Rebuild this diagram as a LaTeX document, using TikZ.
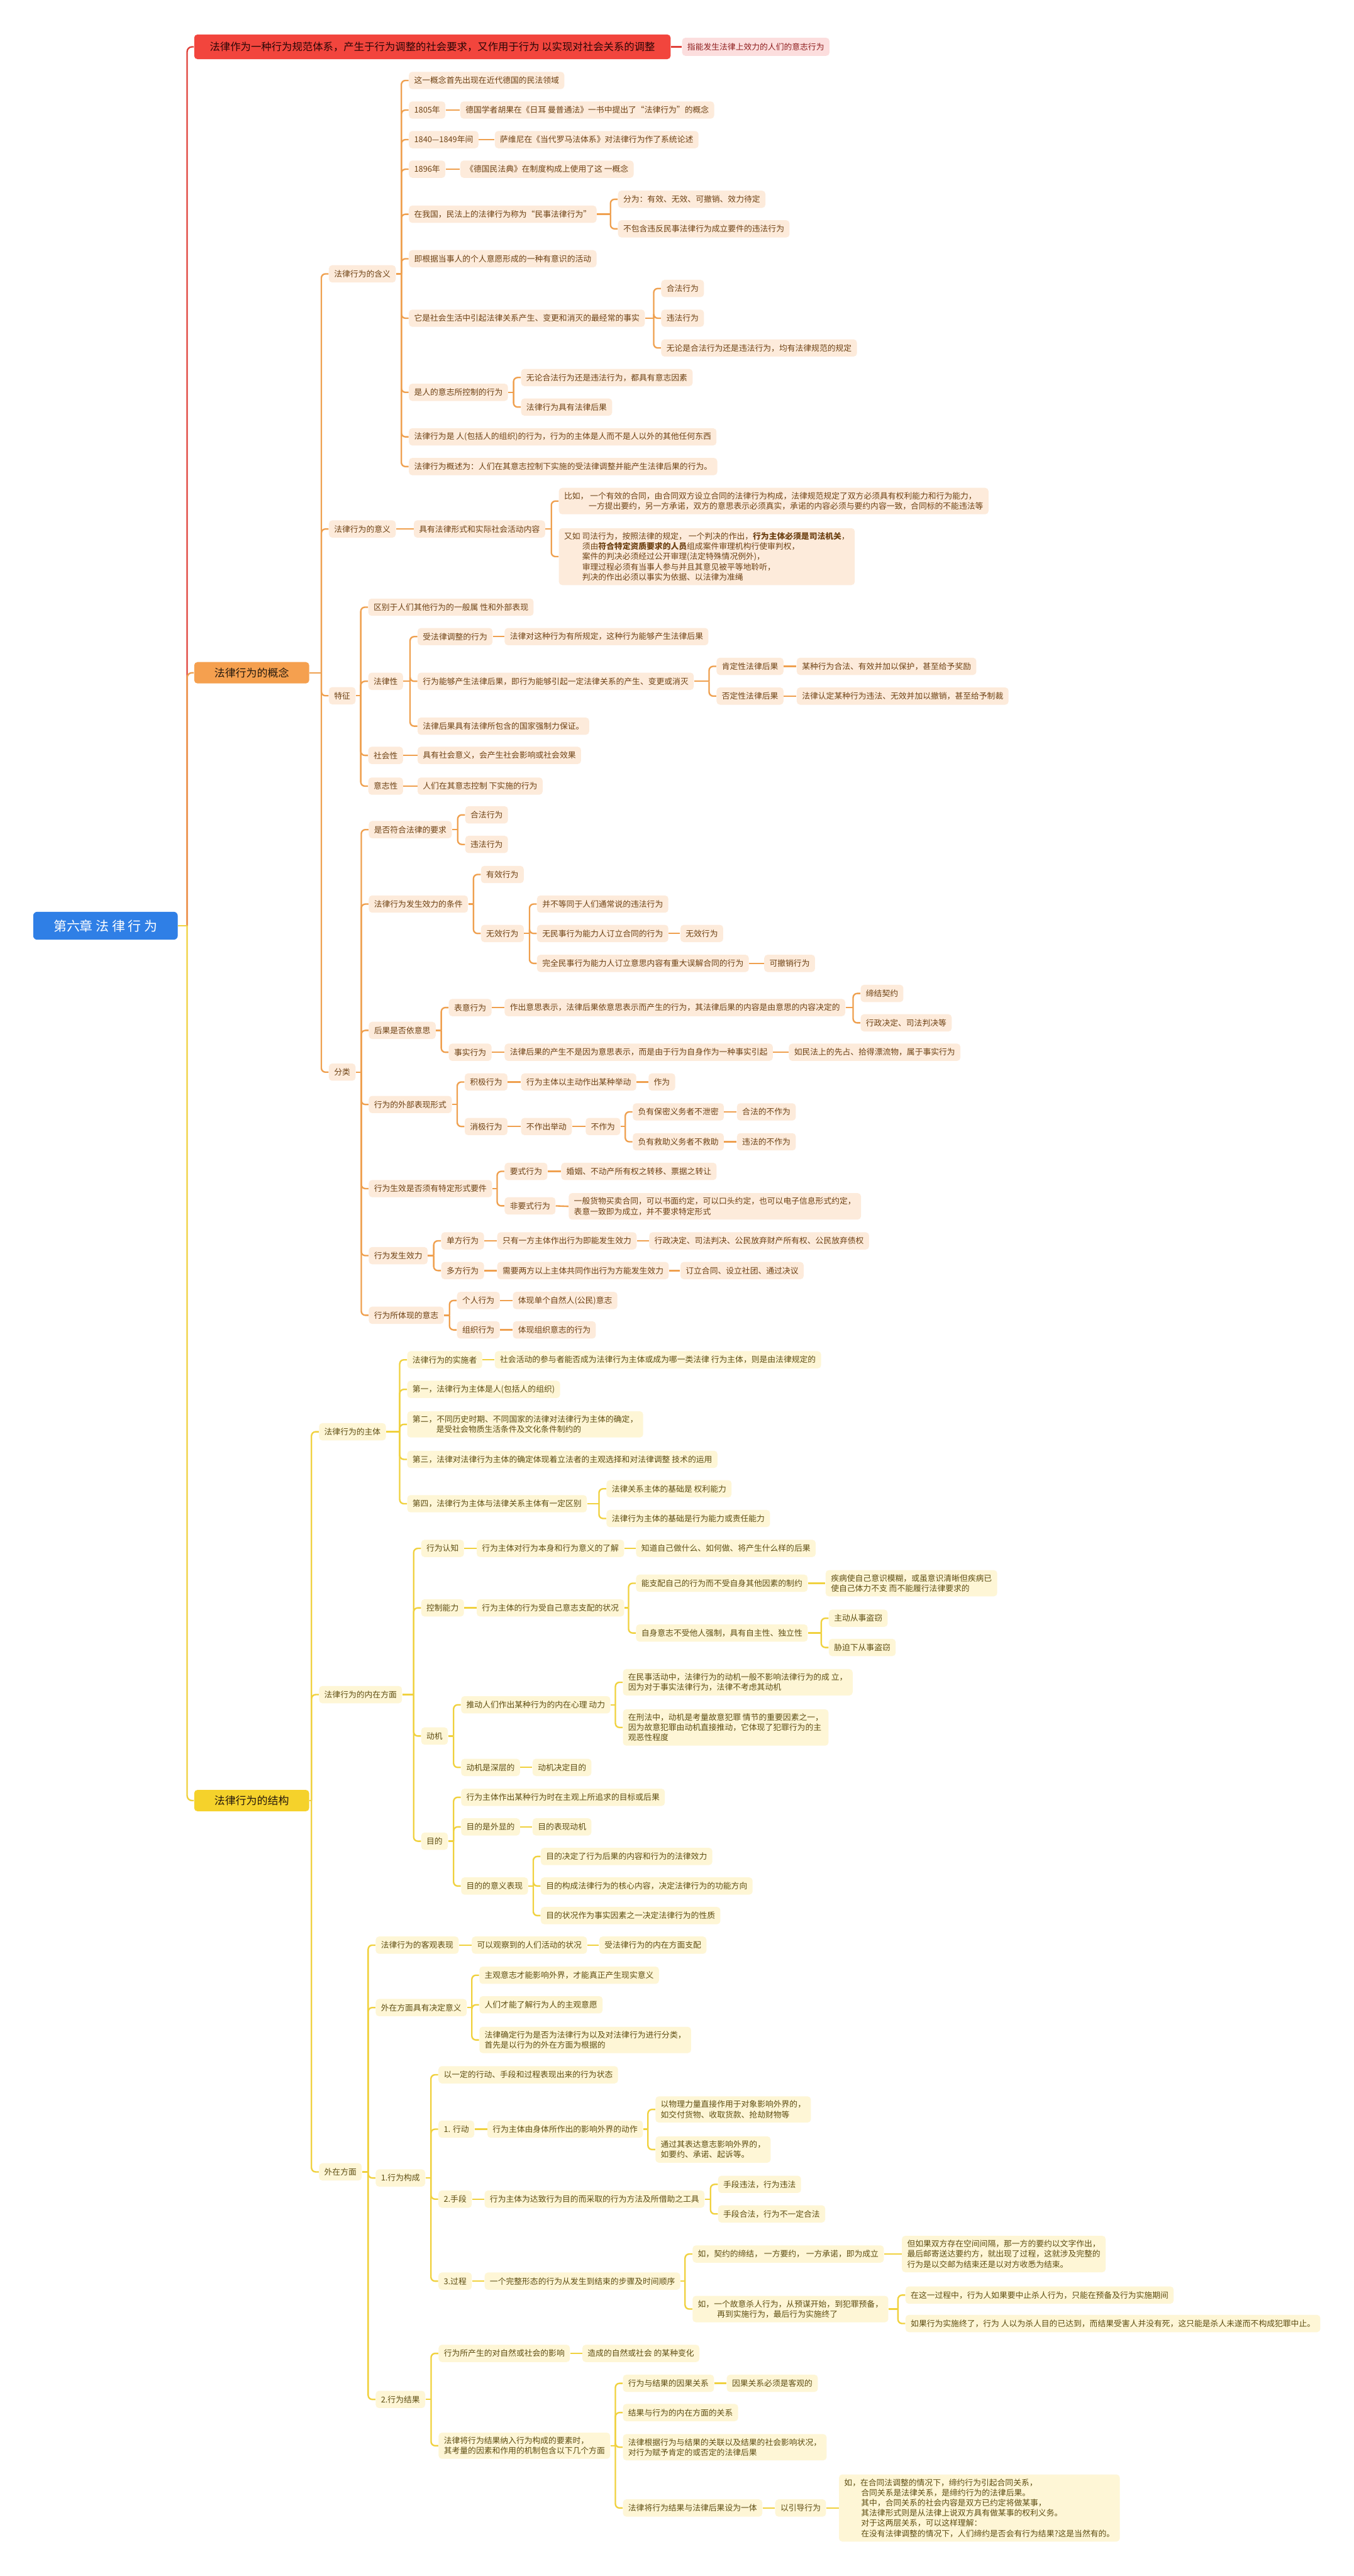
\documentclass[tikz,border=0pt]{standalone}
\usepackage{fontspec}
\setmainfont{Noto Sans CJK SC}
\usetikzlibrary{calc}
\definecolor{rootc}{HTML}{2F7FE6}
\definecolor{redc}{HTML}{F2453D}
\definecolor{redtext}{HTML}{2A0606}
\definecolor{rline}{HTML}{E0413A}
\definecolor{pinkc}{HTML}{FCDEDE}
\definecolor{pinktext}{HTML}{8E1E1E}
\definecolor{lonec}{HTML}{F5A04F}
\definecolor{ltwoc}{HTML}{F5D22B}
\definecolor{ofill}{HTML}{FDEBDB}
\definecolor{otext}{HTML}{6E4214}
\definecolor{oline}{HTML}{EFA04F}
\definecolor{yfill}{HTML}{FEF6D6}
\definecolor{ytext}{HTML}{5E4E12}
\definecolor{yline}{HTML}{F0D13E}
\newcommand\nfs{\fontsize{4.9pt}{6.2pt}\selectfont}
\newcommand\mmtree[4]{%
  \coordinate (#2-t) at ($(#2.east -| #3.west)+(-4.4,0)$);
  \draw[#1] (#2.east) -- (#2-t);
  \foreach \ch in {#4}{\draw[#1,rounded corners=2.5pt] (#2-t) |- (\ch.west);}%
}
\newcommand\mmlink[3]{\draw[#1] (#2.east) -- (#3.west);}
\begin{document}
\begin{tikzpicture}[x=1pt,y=-1pt,
  nd/.style={anchor=west, rounded corners=2pt, inner xsep=3.2pt, inner ysep=2.6pt, minimum height=10.5pt, font=\nfs, align=left},
  ob/.style={nd, fill=ofill, text=otext},
  yb/.style={nd, fill=yfill, text=ytext},
  ol/.style={draw=oline, line width=0.9pt},
  yl/.style={draw=yline, line width=0.9pt},
  rl/.style={draw=rline, line width=0.9pt},
  rootn/.style={anchor=west, fill=rootc, text=white, font=\fontsize{8pt}{9.6pt}\selectfont, minimum width=88pt, minimum height=17pt, inner sep=0pt, rounded corners=2.5pt},
  titlen/.style={anchor=west, fill=redc, text=redtext, font=\fontsize{6.27pt}{7.5pt}\selectfont, minimum width=290pt, minimum height=15pt, inner xsep=2pt, inner ysep=0pt, rounded corners=2pt},
  pinkn/.style={nd, fill=pinkc, text=pinktext, minimum height=11pt},
  lone/.style={anchor=west, fill=lonec, text=black!80!brown, font=\fontsize{6.5pt}{7.8pt}\selectfont, minimum width=70pt, minimum height=13pt, inner sep=0pt, rounded corners=2pt},
  ltwo/.style={anchor=west, fill=ltwoc, text=black!80!brown, font=\fontsize{6.5pt}{7.8pt}\selectfont, minimum width=70pt, minimum height=13pt, inner sep=0pt, rounded corners=2pt},
]
\useasboundingbox (0,0) rectangle (824,1568);
\fill[white] (0,0) rectangle (824,1568);

% ---------- root and level 1
\node[rootn] (root) at (20,563.5) {第六章 法 律 行 为};
\node[titlen] (title) at (118,28.5) {法律作为一种行为规范体系，产生于行为调整的社会要求，又作用于行为 以实现对社会关系的调整};
\node[pinkn] (pink) at (415,28.5) {指能发生法律上效力的人们的意志行为};
\node[lone] (gn) at (118,409.5) {法律行为的概念};
\node[ltwo] (jg) at (118,1096) {法律行为的结构};

% ---------- concept branch
\node[ob] (hy) at (200,166.7) {法律行为的含义};
\node[ob] (yy) at (200,322) {法律行为的意义};
\node[ob] (tz) at (200,423.5) {特征};
\node[ob] (fl) at (200,652.6) {分类};

\node[ob] (h1) at (248.7,49) {这一概念首先出现在近代德国的民法领域};
\node[ob] (h2) at (248.7,67) {1805年};
\node[ob] (h2a) at (280,67) {德国学者胡果在《日耳 曼普通法》一书中提出了“法律行为”的概念};
\node[ob] (h3) at (248.7,85) {1840—1849年间};
\node[ob] (h3a) at (301,85) {萨维尼在《当代罗马法体系》对法律行为作了系统论述};
\node[ob] (h4) at (248.7,103) {1896年};
\node[ob] (h4a) at (280,103) {《德国民法典》在制度构成上使用了这 一概念};
\node[ob] (h5) at (248.7,130.4) {在我国，民法上的法律行为称为“民事法律行为”};
\node[ob] (h5a) at (376,121.3) {分为：有效、无效、可撤销、效力待定};
\node[ob] (h5b) at (376,139.3) {不包含违反民事法律行为成立要件的违法行为};
\node[ob] (h6) at (248.7,157.5) {即根据当事人的个人意愿形成的一种有意识的活动};
\node[ob] (h7) at (248.7,193.7) {它是社会生活中引起法律关系产生、变更和消灭的最经常的事实};
\node[ob] (h7a) at (402.3,175.6) {合法行为};
\node[ob] (h7b) at (402.3,193.7) {违法行为};
\node[ob] (h7c) at (402.3,211.8) {无论是合法行为还是违法行为，均有法律规范的规定};
\node[ob] (h8) at (248.7,238.8) {是人的意志所控制的行为};
\node[ob] (h8a) at (317,229.8) {无论合法行为还是违法行为，都具有意志因素};
\node[ob] (h8b) at (317,247.8) {法律行为具有法律后果};
\node[ob] (h9) at (248.7,265.9) {法律行为是 人(包括人的组织)的行为，行为的主体是人而不是人以外的其他任何东西};
\node[ob] (h10) at (248.7,284) {法律行为概述为：人们在其意志控制下实施的受法律调整并能产生法律后果的行为。};

\node[ob] (y1) at (251.7,322) {具有法律形式和实际社会活动内容};
\node[ob] (y1a) at (340,305) {比如， 一个有效的合同，由合同双方设立合同的法律行为构成，法律规范规定了双方必须具有权利能力和行为能力，\\\hspace*{15pt}一方提出要约，另一方承诺，双方的意思表示必须真实，承诺的内容必须与要约内容一致，合同标的不能违法等};
\node[ob] (y1b) at (340,338.8) {又如 司法行为，按照法律的规定， 一个判决的作出，\textbf{行为主体必须是司法机关}，\\\hspace*{11pt}须由\textbf{符合特定资质要求的人员}组成案件审理机构行使审判权，\\\hspace*{11pt}案件的判决必须经过公开审理(法定特殊情况例外)，\\\hspace*{11pt}审理过程必须有当事人参与并且其意见被平等地聆听，\\\hspace*{11pt}判决的作出必须以事实为依据、以法律为准绳};

\node[ob] (t1) at (224,369.6) {区别于人们其他行为的一般属 性和外部表现};
\node[ob] (t2) at (224,414.7) {法律性};
\node[ob] (t21) at (254,387.5) {受法律调整的行为};
\node[ob] (t21a) at (307,387.5) {法律对这种行为有所规定，这种行为能够产生法律后果};
\node[ob] (t22) at (254,414.7) {行为能够产生法律后果，即行为能够引起一定法律关系的产生、变更或消灭};
\node[ob] (t221) at (436,405.6) {肯定性法律后果};
\node[ob] (t221a) at (484.8,405.6) {某种行为合法、有效并加以保护，甚至给予奖励};
\node[ob] (t222) at (436,423.7) {否定性法律后果};
\node[ob] (t222a) at (484.8,423.7) {法律认定某种行为违法、无效并加以撤销，甚至给予制裁};
\node[ob] (t23) at (254,442) {法律后果具有法律所包含的国家强制力保证。};
\node[ob] (t3) at (224,459.8) {社会性};
\node[ob] (t3a) at (254,459.8) {具有社会意义，会产生社会影响或社会效果};
\node[ob] (t4) at (224,478.5) {意志性};
\node[ob] (t4a) at (254,478.5) {人们在其意志控制 下实施的行为};

\node[ob] (f1) at (224.3,505) {是否符合法律的要求};
\node[ob] (f11) at (283,496) {合法行为};
\node[ob] (f12) at (283,514) {违法行为};
\node[ob] (f2) at (224.3,550.3) {法律行为发生效力的条件};
\node[ob] (f21) at (292.6,532.3) {有效行为};
\node[ob] (f22) at (292.6,568.2) {无效行为};
\node[ob] (f221) at (326.7,550.3) {并不等同于人们通常说的违法行为};
\node[ob] (f222) at (326.7,568.2) {无民事行为能力人订立合同的行为};
\node[ob] (f222a) at (414,568.2) {无效行为};
\node[ob] (f223) at (326.7,586.4) {完全民事行为能力人订立意思内容有重大误解合同的行为};
\node[ob] (f223a) at (465,586.4) {可撤销行为};
\node[ob] (f3) at (224.3,627.2) {后果是否依意思};
\node[ob] (f31) at (273,613.3) {表意行为};
\node[ob] (f31a) at (307,613.3) {作出意思表示，法律后果依意思表示而产生的行为，其法律后果的内容是由意思的内容决定的};
\node[ob] (f311) at (523.7,604.7) {缔结契约};
\node[ob] (f312) at (523.7,622.6) {行政决定、司法判决等};
\node[ob] (f32) at (273,640.5) {事实行为};
\node[ob] (f32a) at (307,640.5) {法律后果的产生不是因为意思表示，而是由于行为自身作为一种事实引起};
\node[ob] (f32b) at (480,640.5) {如民法上的先占、拾得漂流物，属于事实行为};
\node[ob] (f4) at (224.3,672.3) {行为的外部表现形式};
\node[ob] (f41) at (282.7,658.6) {积极行为};
\node[ob] (f41a) at (317,658.6) {行为主体以主动作出某种举动};
\node[ob] (f41b) at (394.6,658.6) {作为};
\node[ob] (f42) at (282.7,685.7) {消极行为};
\node[ob] (f42a) at (317,685.7) {不作出举动};
\node[ob] (f42b) at (356.3,685.7) {不作为};
\node[ob] (f421) at (385,676.8) {负有保密义务者不泄密};
\node[ob] (f421a) at (448.4,676.8) {合法的不作为};
\node[ob] (f422) at (385,695) {负有救助义务者不救助};
\node[ob] (f422a) at (448.4,695) {违法的不作为};
\node[ob] (f5) at (224.3,723.5) {行为生效是否须有特定形式要件};
\node[ob] (f51) at (307,713) {要式行为};
\node[ob] (f51a) at (341.4,713) {婚姻、不动产所有权之转移、票据之转让};
\node[ob] (f52) at (307,734) {非要式行为};
\node[ob] (f52a) at (346,734.3) {一般货物买卖合同，可以书面约定，可以口头约定，也可以电子信息形式约定，\\表意一致即为成立，并不要求特定形式};
\node[ob] (f6) at (224.3,764.3) {行为发生效力};
\node[ob] (f61) at (268.4,755.3) {单方行为};
\node[ob] (f61a) at (302.5,755.3) {只有一方主体作出行为即能发生效力};
\node[ob] (f61b) at (395,755.3) {行政决定、司法判决、公民放弃财产所有权、公民放弃债权};
\node[ob] (f62) at (268.4,773.4) {多方行为};
\node[ob] (f62a) at (302.5,773.4) {需要两方以上主体共同作出行为方能发生效力};
\node[ob] (f62b) at (414,773.4) {订立合同、设立社团、通过决议};
\node[ob] (f7) at (224.3,800.6) {行为所体现的意志};
\node[ob] (f71) at (278,791.6) {个人行为};
\node[ob] (f71a) at (312,791.6) {体现单个自然人(公民)意志};
\node[ob] (f72) at (278,809.5) {组织行为};
\node[ob] (f72a) at (312,809.5) {体现组织意志的行为};

% ---------- structure branch
\node[yb] (zt) at (194,871.5) {法律行为的主体};
\node[yb] (nz) at (194,1031.5) {法律行为的内在方面};
\node[yb] (wz) at (194,1322) {外在方面};

\node[yb] (z1) at (247.7,827.7) {法律行为的实施者};
\node[yb] (z1a) at (301,827.7) {社会活动的参与者能否成为法律行为主体或成为哪一类法律 行为主体，则是由法律规定的};
\node[yb] (z2) at (247.7,845.7) {第一，法律行为主体是人(包括人的组织)};
\node[yb] (z3) at (247.7,867) {第二，不同历史时期、不同国家的法律对法律行为主体的确定，\\\hspace*{14.5pt}是受社会物质生活条件及文化条件制约的};
\node[yb] (z4) at (247.7,888.3) {第三，法律对法律行为主体的确定体现着立法者的主观选择和对法律调整 技术的运用};
\node[yb] (z5) at (247.7,915.3) {第四，法律行为主体与法律关系主体有一定区别};
\node[yb] (z51) at (369,906.2) {法律关系主体的基础是 权利能力};
\node[yb] (z52) at (369,924.3) {法律行为主体的基础是行为能力或责任能力};

\node[yb] (n1) at (256.2,942.5) {行为认知};
\node[yb] (n1a) at (290,942.5) {行为主体对行为本身和行为意义的了解};
\node[yb] (n1b) at (387,942.5) {知道自己做什么、如何做、将产生什么样的后果};
\node[yb] (n2) at (256.2,978.7) {控制能力};
\node[yb] (n2a) at (290,978.7) {行为主体的行为受自己意志支配的状况};
\node[yb] (n21) at (387,963.7) {能支配自己的行为而不受自身其他因素的制约};
\node[yb] (n21a) at (502.4,963.7) {疾病使自己意识模糊，或虽意识清晰但疾病已\\使自己体力不支 而不能履行法律要求的};
\node[yb] (n22) at (387,994) {自身意志不受他人强制，具有自主性、独立性};
\node[yb] (n221) at (504.3,985) {主动从事盗窃};
\node[yb] (n222) at (504.3,1002.8) {胁迫下从事盗窃};
\node[yb] (n3) at (256.2,1056.7) {动机};
\node[yb] (n31) at (280.5,1037.7) {推动人们作出某种行为的内在心理 动力};
\node[yb] (n311) at (379,1024) {在民事活动中，法律行为的动机一般不影响法律行为的成 立，\\因为对于事实法律行为，法律不考虑其动机};
\node[yb] (n312) at (379,1051.5) {在刑法中，动机是考量故意犯罪 情节的重要因素之一，\\因为故意犯罪由动机直接推动，它体现了犯罪行为的主\\观恶性程度};
\node[yb] (n32) at (280.5,1075.8) {动机是深层的};
\node[yb] (n32a) at (324,1075.8) {动机决定目的};
\node[yb] (n4) at (256.2,1120.7) {目的};
\node[yb] (n41) at (280.5,1094) {行为主体作出某种行为时在主观上所追求的目标或后果};
\node[yb] (n42) at (280.5,1112) {目的是外显的};
\node[yb] (n42a) at (324,1112) {目的表现动机};
\node[yb] (n43) at (280.5,1148) {目的的意义表现};
\node[yb] (n431) at (329,1130) {目的决定了行为后果的内容和行为的法律效力};
\node[yb] (n432) at (329,1148) {目的构成法律行为的核心内容，决定法律行为的功能方向};
\node[yb] (n433) at (329,1166) {目的状况作为事实因素之一决定法律行为的性质};

\node[yb] (w1) at (228.5,1184) {法律行为的客观表现};
\node[yb] (w1a) at (287,1184) {可以观察到的人们活动的状况};
\node[yb] (w1b) at (364.6,1184) {受法律行为的内在方面支配};
\node[yb] (w2) at (228.5,1222) {外在方面具有决定意义};
\node[yb] (w21) at (291.6,1202.3) {主观意志才能影响外界，才能真正产生现实意义};
\node[yb] (w22) at (291.6,1220.3) {人们才能了解行为人的主观意愿};
\node[yb] (w23) at (291.6,1241.7) {法律确定行为是否为法律行为以及对法律行为进行分类，\\首先是以行为的外在方面为根据的};
\node[yb] (w3) at (228.5,1325.7) {1.行为构成};
\node[yb] (w31) at (266.7,1262.9) {以一定的行动、手段和过程表现出来的行为状态};
\node[yb] (w32) at (266.7,1296) {1. 行动};
\node[yb] (w32a) at (296.5,1296) {行为主体由身体所作出的影响外界的动作};
\node[yb] (w321) at (398.8,1284) {以物理力量直接作用于对象影响外界的，\\如交付货物、收取货款、抢劫财物等};
\node[yb] (w322) at (398.8,1308.4) {通过其表达意志影响外界的，\\如要约、承诺、起诉等。};
\node[yb] (w33) at (266.7,1338.6) {2.手段};
\node[yb] (w33a) at (294.8,1338.6) {行为主体为达致行为目的而采取的行为方法及所借助之工具};
\node[yb] (w331) at (436.9,1329.6) {手段违法，行为违法};
\node[yb] (w332) at (436.9,1347.6) {手段合法，行为不一定合法};
\node[yb] (w34) at (266.7,1388.5) {3.过程};
\node[yb] (w34a) at (294.8,1388.5) {一个完整形态的行为从发生到结束的步骤及时间顺序};
\node[yb] (w341) at (421.4,1372) {如，契约的缔结， 一方要约， 一方承诺，即为成立};
\node[yb] (w341a) at (548.8,1372) {但如果双方存在空间间隔，那一方的要约以文字作出，\\最后邮寄送达要约方，就出现了过程，这就涉及完整的\\行为是以交邮为结束还是以对方收悉为结束。};
\node[yb] (w342) at (421.4,1405.5) {如，一个故意杀人行为，从预谋开始，到犯罪预备，\\\hspace*{11.7pt}再到实施行为，最后行为实施终了};
\node[yb] (w3421) at (551,1397) {在这一过程中，行为人如果要中止杀人行为，只能在预备及行为实施期间};
\node[yb] (w3422) at (551,1414.3) {如果行为实施终了，行为 人以为杀人目的已达到，而结果受害人并没有死，这只能是杀人未遂而不构成犯罪中止。};
\node[yb] (w4) at (228.5,1460.5) {2.行为结果};
\node[yb] (w41) at (266.8,1432.5) {行为所产生的对自然或社会的影响};
\node[yb] (w41a) at (354.3,1432.5) {造成的自然或社会 的某种变化};
\node[yb] (w42) at (266.8,1488.7) {法律将行为结果纳入行为构成的要素时，\\其考量的因素和作用的机制包含以下几个方面};
\node[yb] (w421) at (379,1450.7) {行为与结果的因果关系};
\node[yb] (w421a) at (442.2,1450.7) {因果关系必须是客观的};
\node[yb] (w422) at (379,1468.5) {结果与行为的内在方面的关系};
\node[yb] (w423) at (379,1489.6) {法律根据行为与结果的关联以及结果的社会影响状况，\\对行为赋予肯定的或否定的法律后果};
\node[yb] (w424) at (379,1526.6) {法律将行为结果与法律后果设为一体};
\node[yb] (w424a) at (471.7,1526.6) {以引导行为};
\node[yb] (w424b) at (510.5,1526.6) {如，在合同法调整的情况下，缔约行为引起合同关系，\\\hspace*{10.3pt}合同关系是法律关系，是缔约行为的法律后果。\\\hspace*{10.3pt}其中，合同关系的社会内容是双方已约定将做某事，\\\hspace*{10.3pt}其法律形式则是从法律上说双方具有做某事的权利义务。\\\hspace*{10.3pt}对于这两层关系，可以这样理解：\\\hspace*{10.3pt}在没有法律调整的情况下，人们缔约是否会有行为结果?这是当然有的。};

% ---------- connectors
\coordinate (root-t) at ($(root.east)+(5.5,0)$);
\draw[rl,rounded corners=3pt] (root-t) |- (title.west);
\draw[ol,rounded corners=3pt] (root-t) |- (gn.west);
\draw[yl,rounded corners=3pt] (root-t) |- (jg.west);
\draw[yl] (root.east) -- (root-t);
\mmlink{rl}{title}{pink}

\mmtree{ol}{gn}{hy}{hy,yy,tz,fl}
\mmtree{ol}{hy}{h1}{h1,h2,h3,h4,h5,h6,h7,h8,h9,h10}
\mmlink{ol}{h2}{h2a}
\mmlink{ol}{h3}{h3a}
\mmlink{ol}{h4}{h4a}
\mmtree{ol}{h5}{h5a}{h5a,h5b}
\mmtree{ol}{h7}{h7a}{h7a,h7b,h7c}
\mmtree{ol}{h8}{h8a}{h8a,h8b}
\mmlink{ol}{yy}{y1}
\mmtree{ol}{y1}{y1a}{y1a,y1b}
\mmtree{ol}{tz}{t1}{t1,t2,t3,t4}
\mmtree{ol}{t2}{t21}{t21,t22,t23}
\mmlink{ol}{t21}{t21a}
\mmtree{ol}{t22}{t221}{t221,t222}
\mmlink{ol}{t221}{t221a}
\mmlink{ol}{t222}{t222a}
\mmlink{ol}{t3}{t3a}
\mmlink{ol}{t4}{t4a}
\mmtree{ol}{fl}{f1}{f1,f2,f3,f4,f5,f6,f7}
\mmtree{ol}{f1}{f11}{f11,f12}
\mmtree{ol}{f2}{f21}{f21,f22}
\mmtree{ol}{f22}{f221}{f221,f222,f223}
\mmlink{ol}{f222}{f222a}
\mmlink{ol}{f223}{f223a}
\mmtree{ol}{f3}{f31}{f31,f32}
\mmlink{ol}{f31}{f31a}
\mmtree{ol}{f31a}{f311}{f311,f312}
\mmlink{ol}{f32}{f32a}
\mmlink{ol}{f32a}{f32b}
\mmtree{ol}{f4}{f41}{f41,f42}
\mmlink{ol}{f41}{f41a}
\mmlink{ol}{f41a}{f41b}
\mmlink{ol}{f42}{f42a}
\mmlink{ol}{f42a}{f42b}
\mmtree{ol}{f42b}{f421}{f421,f422}
\mmlink{ol}{f421}{f421a}
\mmlink{ol}{f422}{f422a}
\mmtree{ol}{f5}{f51}{f51,f52}
\mmlink{ol}{f51}{f51a}
\mmlink{ol}{f52}{f52a}
\mmtree{ol}{f6}{f61}{f61,f62}
\mmlink{ol}{f61}{f61a}
\mmlink{ol}{f61a}{f61b}
\mmlink{ol}{f62}{f62a}
\mmlink{ol}{f62a}{f62b}
\mmtree{ol}{f7}{f71}{f71,f72}
\mmlink{ol}{f71}{f71a}
\mmlink{ol}{f72}{f72a}

\mmtree{yl}{jg}{zt}{zt,nz,wz}
\mmtree{yl}{zt}{z1}{z1,z2,z3,z4,z5}
\mmlink{yl}{z1}{z1a}
\mmtree{yl}{z5}{z51}{z51,z52}
\mmtree{yl}{nz}{n1}{n1,n2,n3,n4}
\mmlink{yl}{n1}{n1a}
\mmlink{yl}{n1a}{n1b}
\mmlink{yl}{n2}{n2a}
\mmtree{yl}{n2a}{n21}{n21,n22}
\mmlink{yl}{n21}{n21a}
\mmtree{yl}{n22}{n221}{n221,n222}
\mmtree{yl}{n3}{n31}{n31,n32}
\mmtree{yl}{n31}{n311}{n311,n312}
\mmlink{yl}{n32}{n32a}
\mmtree{yl}{n4}{n41}{n41,n42,n43}
\mmlink{yl}{n42}{n42a}
\mmtree{yl}{n43}{n431}{n431,n432,n433}
\mmtree{yl}{wz}{w1}{w1,w2,w3,w4}
\mmlink{yl}{w1}{w1a}
\mmlink{yl}{w1a}{w1b}
\mmtree{yl}{w2}{w21}{w21,w22,w23}
\mmtree{yl}{w3}{w31}{w31,w32,w33,w34}
\mmlink{yl}{w32}{w32a}
\mmtree{yl}{w32a}{w321}{w321,w322}
\mmlink{yl}{w33}{w33a}
\mmtree{yl}{w33a}{w331}{w331,w332}
\mmlink{yl}{w34}{w34a}
\mmtree{yl}{w34a}{w341}{w341,w342}
\mmlink{yl}{w341}{w341a}
\mmtree{yl}{w342}{w3421}{w3421,w3422}
\mmtree{yl}{w4}{w41}{w41,w42}
\mmlink{yl}{w41}{w41a}
\mmtree{yl}{w42}{w421}{w421,w422,w423,w424}
\mmlink{yl}{w421}{w421a}
\mmlink{yl}{w424}{w424a}
\mmlink{yl}{w424a}{w424b}
\end{tikzpicture}
\end{document}
